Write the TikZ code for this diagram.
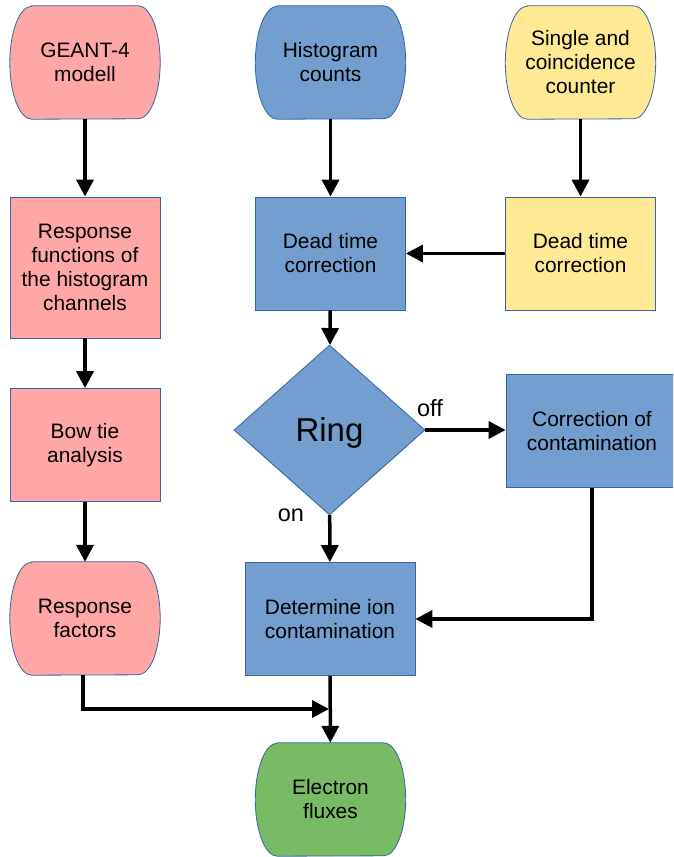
\documentclass[tikz,border=0pt]{standalone}
\usepackage{fontspec}
\setmainfont{Liberation Sans}
\usetikzlibrary{shapes.geometric,arrows.meta,backgrounds}
\definecolor{boxred}{HTML}{FFA6A6}
\definecolor{boxblue}{HTML}{729FCF}
\definecolor{boxyellow}{HTML}{FFE994}
\definecolor{boxgreen}{HTML}{77BC65}
\definecolor{edgeblue}{HTML}{3465A4}
%% flat top and bottom, bulging sides
\newcommand{\termshape}[2]{%
  \filldraw[fill=#2,draw=edgeblue,line width=0.8pt]
    ([xshift=22pt]#1.north west) -- ([xshift=-22pt]#1.north east)
    arc[start angle=90,end angle=-90,x radius=22pt,y radius=56.5pt]
    -- ([xshift=22pt]#1.south west)
    arc[start angle=270,end angle=90,x radius=22pt,y radius=56.5pt] -- cycle;}
\begin{document}
\begin{tikzpicture}[x=1pt,y=-1pt,font=\fontsize{20.9}{24}\selectfont,
    term/.style={minimum width=150,minimum height=113,align=center,inner sep=0},
    box/.style={draw=edgeblue,line width=0.8pt,fill=#1,minimum width=150,minimum height=113,align=center},
    flow/.style={line width=3.5pt,-{Triangle[length=17pt,width=17pt]}},
    tag/.style={font=\fontsize{23.5}{26}\selectfont}]
        \clip (0,0) rectangle (673,857);
        %% Left column
        \node[term] (geant) at (85,62.5) {GEANT-4\\modell};
        \node[box=boxred,minimum height=141] (resp) at (85,267.5) {Response\\functions of\\the histogram\\channels};
        \node[box=boxred] (bowtie) at (85,445) {Bow tie\\analysis};
        \node[term] (factors) at (85,618.5) {Response\\factors};
        %% Middle column
        \node[term] (hist) at (330.5,62.5) {Histogram\\counts};
        \node[box=boxblue] (deadhist) at (330.5,253.5) {Dead time\\correction};
        \node[diamond,draw=edgeblue,line width=0.8pt,fill=boxblue,aspect=1.12,inner sep=0,text depth=0,
              minimum width=191,minimum height=170,font=\fontsize{33}{36}\selectfont] (ring) at (329.5,430) {Ring};
        \node[tag] (off) at (430,408) {off};
        \node[tag] (on) at (291,515) {on};
        \node[box=boxblue,minimum width=170] (ion) at (330,619) {Determine ion\\contamination};
        \node[term] (flux) at (330.5,799.5) {Electron\\fluxes};
        %% Right column
        \node[term] (single) at (580.5,62.5) {Single and\\coincidence\\counter};
        \node[box=boxyellow] (deadcount) at (580.5,253.5) {Dead time\\correction};
        \node[box=boxblue,minimum width=172] (corr) at (592,431) {Correction of\\contamination};
        %% Rounded shapes
        \begin{scope}[on background layer]
            \termshape{geant}{boxred}
            \termshape{factors}{boxred}
            \termshape{hist}{boxblue}
            \termshape{single}{boxyellow}
            \termshape{flux}{boxgreen}
        \end{scope}
        %% Arrows
        \draw[flow] (geant) -- (resp);
        \draw[flow] (resp) -- (bowtie);
        \draw[flow] (bowtie) -- (factors);
        \draw[flow] (hist) -- (deadhist);
        \draw[flow] (single) -- (deadcount);
        \draw[flow] (deadcount) -- (deadhist);
        \draw[flow] (deadhist) -- (ring);
        \draw[flow] (ring.east) -- (ring.east -| corr.west);
        \draw[flow] (ring) -- (ion);
        \draw[flow] (corr.south) |- (ion.east);
        \draw[flow] (ion) -- (flux);
        \coordinate (join) at (329,709);
        \draw[flow] ([xshift=-2pt]factors.south) |- (join);
    \end{tikzpicture}
\end{document}
